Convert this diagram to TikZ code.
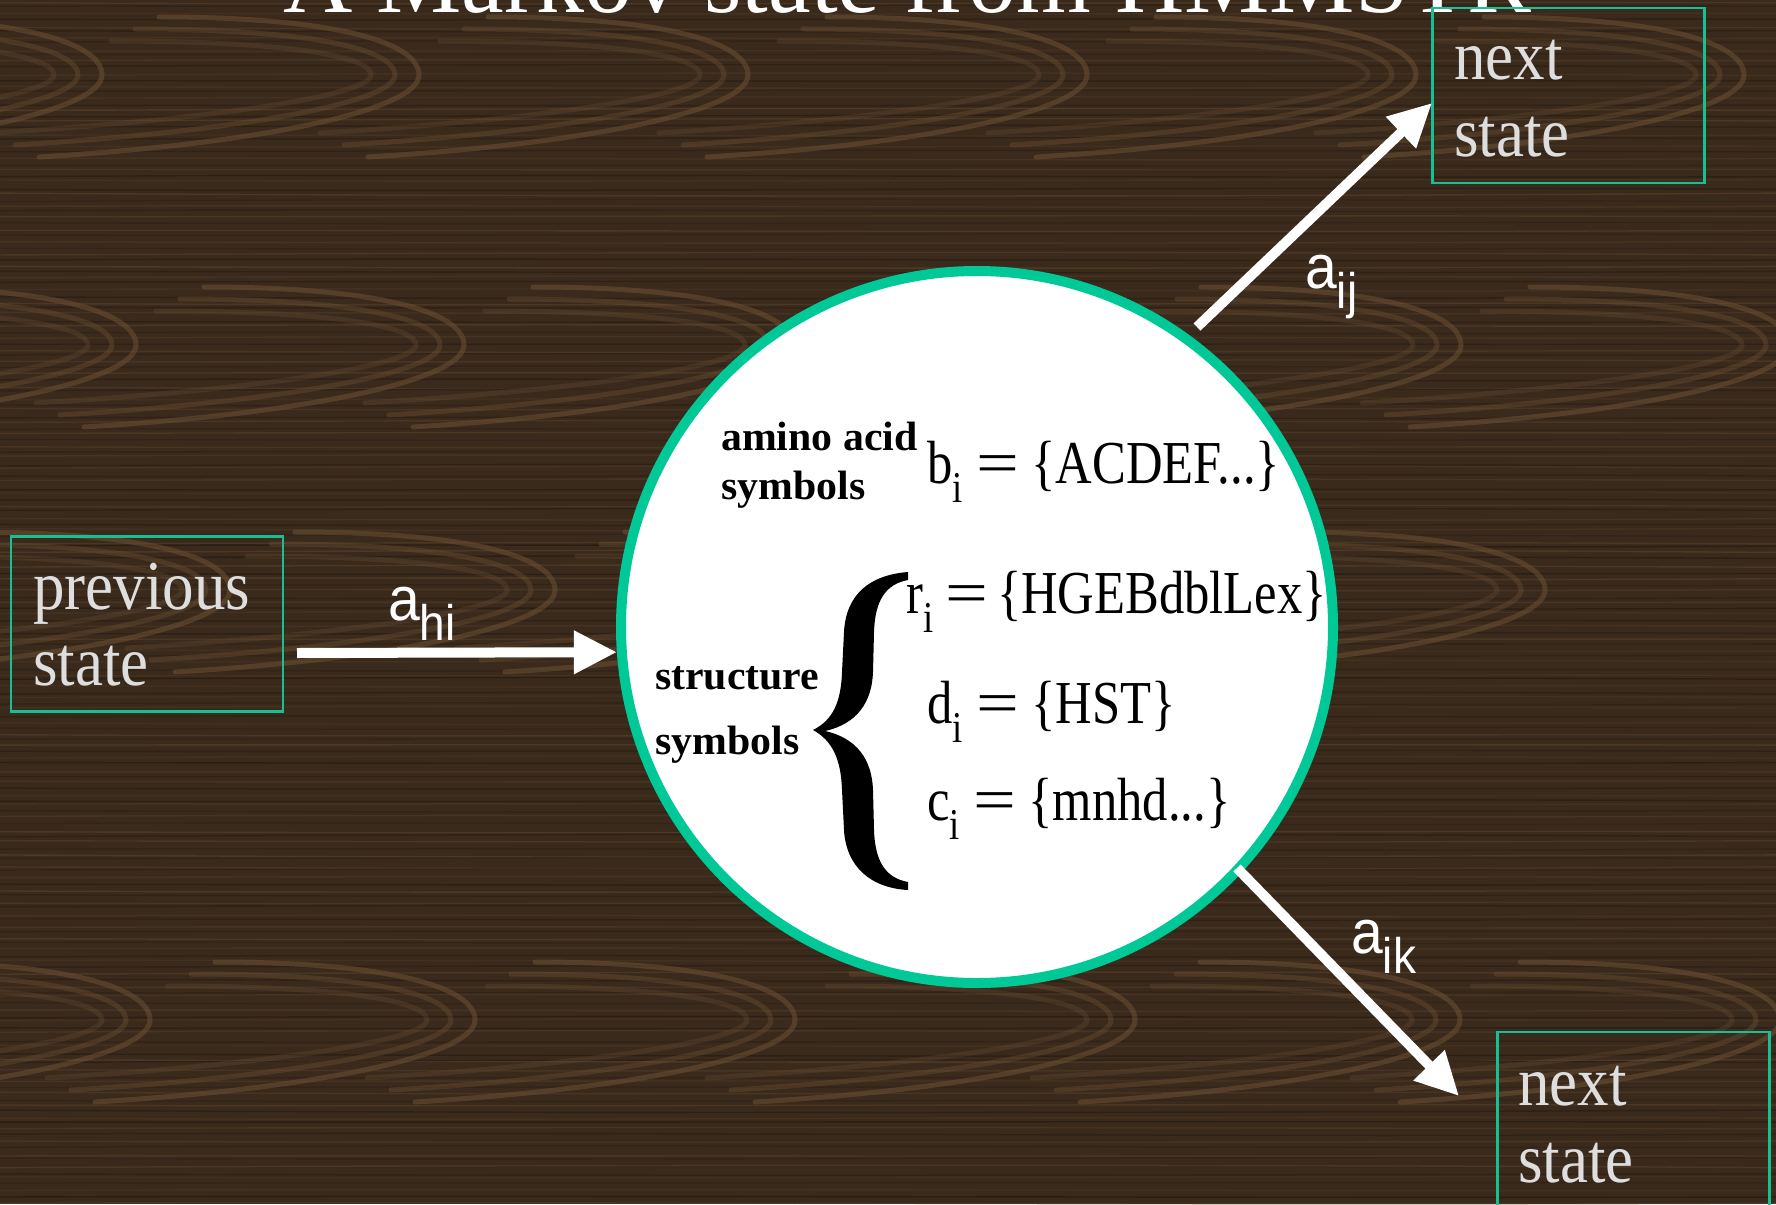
\documentclass[tikz,border=0pt]{standalone}
\usepackage{fontspec}
\setmainfont{Liberation Serif}
\newfontfamily\titlefont{Liberation Serif}
\newfontfamily\boxfont[FakeStretch=0.9]{Liberation Serif}
\newfontfamily\eqfont[FakeStretch=0.83]{Liberation Serif}
\newfontfamily\tagfont[FakeStretch=1.02]{Liberation Serif}
\newfontfamily\probfont[FakeStretch=0.92]{Liberation Sans}
\usetikzlibrary{arrows.meta,calc}

\definecolor{woodbase}{RGB}{58,42,28}
\definecolor{woodlight}{RGB}{112,84,54}
\definecolor{wooddark}{RGB}{36,25,16}
\definecolor{statering}{RGB}{0,200,150}
\definecolor{boxline}{RGB}{24,190,148}
\definecolor{boxtext}{RGB}{222,222,222}

\tikzset{
  statebox/.style={draw=boxline, line width=2.5pt, minimum width=272pt,
    minimum height=175pt, inner sep=0pt},
  boxword/.style={anchor=base west, inner sep=0pt, text=boxtext,
    font=\boxfont\fontsize{70}{70}\selectfont},
  trans/.style={draw=white, line width=10pt,
    -{Triangle[length=43pt,width=41pt]}},
  prob/.style={anchor=base west, inner sep=0pt, text=white,
    font=\probfont\fontsize{62}{62}\selectfont},
  tag/.style={anchor=base west, inner sep=0pt,
    font=\tagfont\bfseries\fontsize{41}{41}\selectfont},
  eqline/.style={anchor=base west, inner sep=0pt,
    font=\eqfont\fontsize{61}{61}\selectfont},
  grain/.style={draw=woodlight, line width=5pt, line cap=round},
  fibre/.style={line width=1.4pt},
}

% subscript, wide equals sign and probability subscript
\newcommand{\sub}[1]{\raisebox{-19pt}{\fontsize{44}{44}\selectfont #1}}
\newcommand{\eqsign}{\hspace{14pt}\scalebox{1.5}[1]{=}\hspace{12pt}}
\newcommand{\psub}[1]{\raisebox{-20pt}{\fontsize{50}{50}\selectfont #1}}

\begin{document}
\begin{tikzpicture}[x=1pt,y=-1pt]
  \useasboundingbox (0,0) rectangle (1776,1204);
  \clip (0,0) rectangle (1776,1204);

  % wood background
  \fill[woodbase] (0,0) rectangle (1776,1204);
  \pgfmathsetseed{11}
  \foreach \k in {0,...,200} {
    \pgfmathsetmacro{\yy}{\k*6+4*rnd}
    \pgfmathsetmacro{\wa}{8*rnd-4}
    \pgfmathsetmacro{\wb}{8*rnd-4}
    \pgfmathsetmacro{\op}{0.3+0.4*rnd}
    \ifodd\k
      \draw[fibre, wooddark, opacity=\op] (0,\yy) .. controls (600,\yy+\wa) and (1200,\yy+\wb) .. (1776,\yy);
    \else
      \draw[fibre, woodlight, opacity=\op*0.5] (0,\yy) .. controls (600,\yy+\wa) and (1200,\yy+\wb) .. (1776,\yy);
    \fi
  }
  \foreach \Y/\xs in {75/{102,419,748,1087,1416,1744},
                      345/{136,464,793,1133,1461,1790},
                      590/{230,555,885,1215,1545},
                      1020/{150,475,795,1135,1460,1780}} {
    \foreach \X in \xs {
      \foreach \d/\op in {0/0.5,24/0.38,48/0.28} {
        \draw[grain, opacity=\op]
          (\X-\d-260,\Y-58+\d*0.5) .. controls (\X-\d-90,\Y-58+\d*0.5) and (\X-\d,\Y-34+\d*0.3) ..
          (\X-\d,\Y) .. controls (\X-\d,\Y+34-\d*0.3) and (\X-\d-150,\Y+68-\d*0.5) ..
          (\X-\d-380,\Y+82-\d*0.5);
      }
    }
  }

  % title
  \node[anchor=base west, inner sep=0pt, text=white,
        font=\titlefont\fontsize{96}{96}\selectfont] (title) at (283,13)
        {A Markov state from HMMSTR};

  % neighbouring states
  \node[statebox] (prev) at (147,624) {};
  \node[boxword] (prevA) at (33,609) {previous};
  \node[boxword] (prevB) at (33,685) {state};

  \node[statebox] (nextup) at (1568.5,95.5) {};
  \node[boxword] (nextupA) at (1454,80) {next};
  \node[boxword] (nextupB) at (1454,157) {state};

  \node[statebox] (nextdown) at (1633.5,1119.5) {};
  \node[boxword] (nextdownA) at (1518,1105) {next};
  \node[boxword] (nextdownB) at (1518,1182) {state};

  % the state itself
  \node[circle, draw=statering, line width=10pt, fill=white,
        minimum size=712pt, inner sep=0pt] (state) at (977,627) {};

  \node[tag] (aaA) at (721,450) {amino acid};
  \node[tag] (aaB) at (721,499) {symbols};
  \node[eqline] (eqb) at (927,483) {b\sub{i}\eqsign\{ACDEF...\}};

  \node[tag] (stA) at (655,689) {structure};
  \node[tag] (stB) at (655,754) {symbols};
  \node[eqline] (eqr) at (906,613) {r\sub{i}\hspace{12pt}\scalebox{1.5}[1]{=}\hspace{9pt}\{HGEBdblLex\}};
  \node[eqline] (eqd) at (927,723) {d\sub{i}\eqsign\{HST\}};
  \node[eqline] (eqc) at (927,820) {c\sub{i}\eqsign\{mnhd...\}};

  % curly brace grouping the structure alphabets
  \fill[black] (813,730)
    .. controls (833,720) and (841,702) .. (842,672)
    -- (844,632) .. controls (846,594) and (870,575) .. (908,572)
    -- (908,580)
    .. controls (886,584) and (875,600) .. (874,632)
    -- (873,672) .. controls (872,702) and (857,724) .. (825,731)
    .. controls (857,738) and (872,760) .. (873,790)
    -- (874,830) .. controls (875,862) and (886,878) .. (908,882)
    -- (908,890)
    .. controls (870,888) and (846,866) .. (844,830)
    -- (842,790) .. controls (841,760) and (833,741) .. (813,730) -- cycle;

  % transitions
  \coordinate (hi-tail) at (297,653);
  \coordinate (ij-tail) at (1197,327);
  \coordinate (ij-head) at (1432,103);
  \coordinate (ik-tail) at (1237,868);
  \coordinate (ik-head) at (1459,1096);

  \draw[trans] (hi-tail) -- (state.184);
  \draw[trans] (ij-tail) -- (ij-head);
  \draw[trans] (ik-tail) -- (ik-head);

  \node[prob] (ahi) at (388,620) {a\psub{hi}};
  \node[prob] (aij) at (1305,288) {a\psub{ij}};
  \node[prob] (aik) at (1351,953) {a\psub{ik}};
\end{tikzpicture}
\end{document}
